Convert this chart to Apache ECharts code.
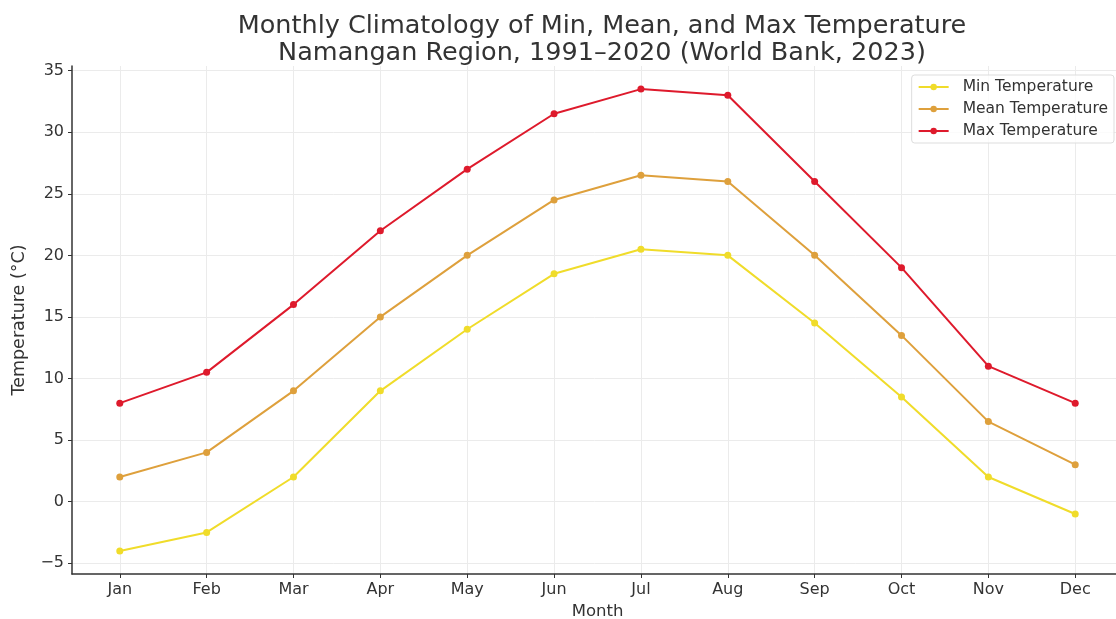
<!DOCTYPE html>
<html>
<head>
<meta charset="utf-8">
<script src="https://cdn.jsdelivr.net/npm/echarts@6/dist/echarts.min.js"></script>
<style>
  html, body { margin: 0; padding: 0; background: #fff; }
  #chart { width: 1116px; height: 619px; }
</style>
</head>
<body>
<div id="chart"></div>
<script>
// months along the x axis
var months = ['Jan', 'Feb', 'Mar', 'Apr', 'May', 'Jun', 'Jul', 'Aug', 'Sep', 'Oct', 'Nov', 'Dec'];
// temperatures in °C
var minTemp  = [-4, -2.5, 2, 9, 14, 18.5, 20.5, 20, 14.5, 8.5, 2, -1];
var meanTemp = [2, 4, 9, 15, 20, 24.5, 26.5, 26, 20, 13.5, 6.5, 3];
var maxTemp  = [8, 10.5, 16, 22, 27, 31.5, 33.5, 33, 26, 19, 11, 8];
var yTicks = [-5, 0, 5, 10, 15, 20, 25, 30, 35];
var xTicks = months.map(function (m, i) { return i; });

var FONT = 'DejaVu Sans';

function pairs(arr) {
    var out = [];
    for (var i = 0; i < arr.length; i++) {
        out.push([i, arr[i]]);
    }
    return out;
}

function makeSeries(name, values, color) {
    return {
        name: name,
        type: 'line',
        data: pairs(values),
        symbol: 'circle',
        symbolSize: 7,
        lineStyle: { color: color, width: 2 },
        itemStyle: { color: color },
        emphasis: { disabled: true }
    };
}

var chart = echarts.init(document.getElementById('chart'));
var option = {
    animation: false,
    backgroundColor: '#fff',
    title: {
        text: 'Monthly Climatology of Min, Mean, and Max Temperature\nNamangan Region, 1991\u20132020 (World Bank, 2023)',
        left: 597,
        top: 8,
        textAlign: 'center',
        textStyle: {
            fontFamily: FONT,
            fontSize: 25.5,
            fontWeight: 'normal',
            color: '#333',
            lineHeight: 27
        }
    },
    legend: {
        orient: 'vertical',
        right: 2,
        top: 75,
        itemWidth: 30,
        itemHeight: 8,
        itemGap: 6,
        padding: [4, 6, 4, 6],
        borderColor: '#ddd',
        borderWidth: 1,
        borderRadius: 3,
        backgroundColor: 'rgba(255,255,255,0.8)',
        textStyle: { fontFamily: FONT, fontSize: 15.5, color: '#333', padding: [0, 0, 0, 9] },
        data: ['Min Temperature', 'Mean Temperature', 'Max Temperature']
    },
    grid: {
        left: 72,
        right: -7,
        top: 66,
        bottom: 45,
        containLabel: false,
        outerBoundsMode: 'none'
    },
    xAxis: {
        type: 'value',
        min: -0.55,
        max: 11.55,
        name: 'Month',
        nameLocation: 'middle',
        nameGap: 29,
        nameTextStyle: { fontFamily: FONT, fontSize: 16.5, color: '#333' },
        axisLine: { onZero: false, lineStyle: { color: '#333', width: 1.5 } },
        axisTick: { show: true, length: 4, lineStyle: { color: '#333' }, customValues: xTicks },
        axisLabel: {
            fontFamily: FONT,
            fontSize: 16,
            color: '#333',
            margin: 8,
            customValues: xTicks,
            formatter: function (v) {
                return months[Math.round(v)] || '';
            }
        },
        splitLine: {
            show: true,
            lineStyle: { color: '#ebebeb', width: 1 }
        }
    },
    yAxis: {
        type: 'value',
        min: -5.875,
        max: 35.375,
        name: 'Temperature (\u00b0C)',
        nameLocation: 'middle',
        nameGap: 44,
        nameTextStyle: { fontFamily: FONT, fontSize: 17.5, color: '#333' },
        axisLine: { show: true, onZero: false, lineStyle: { color: '#333', width: 1.5 } },
        axisTick: { show: true, length: 4, lineStyle: { color: '#333' }, customValues: yTicks },
        axisLabel: {
            fontFamily: FONT,
            fontSize: 16,
            color: '#333',
            margin: 8,
            customValues: yTicks,
            formatter: function (v) {
                return v < 0 ? '\u2212' + Math.abs(v) : String(v);
            }
        },
        splitLine: {
            show: true,
            lineStyle: { color: '#ebebeb', width: 1 }
        }
    },
    series: [
        makeSeries('Min Temperature', minTemp, '#f0dc2a'),
        makeSeries('Mean Temperature', meanTemp, '#dea03c'),
        makeSeries('Max Temperature', maxTemp, '#de1a2c')
    ]
};
chart.setOption(option);
</script>
</body>
</html>
